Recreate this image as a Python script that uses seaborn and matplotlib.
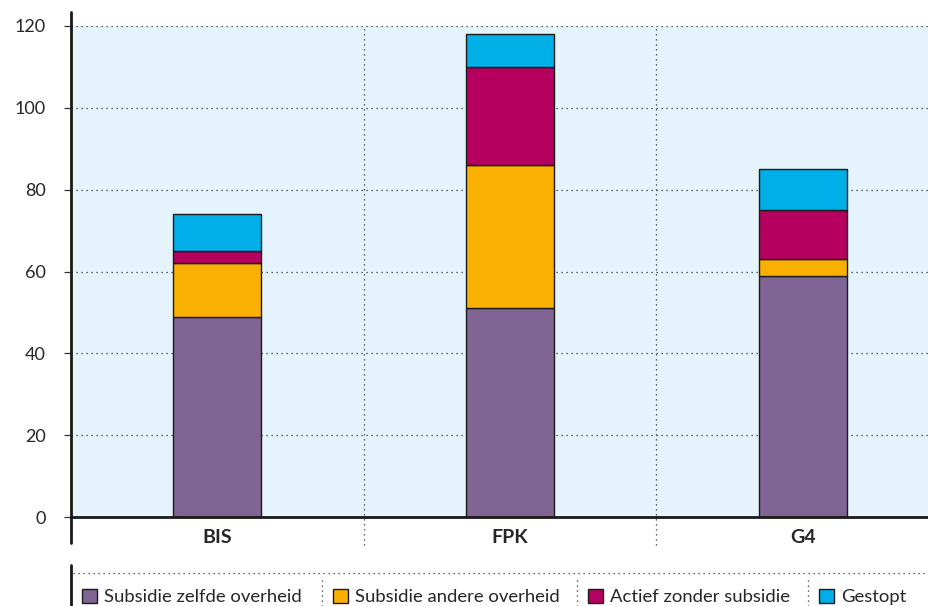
import numpy as np
import matplotlib
matplotlib.use("Agg")
import matplotlib.pyplot as plt
import seaborn as sns
import pandas as pd
from matplotlib.lines import Line2D
from matplotlib.patches import Patch

categories = ["BIS", "FPK", "G4"]
series_names = ["Subsidie zelfde overheid", "Subsidie andere overheid",
                "Actief zonder subsidie", "Gestopt"]
subsidie_zelfde = [49, 51, 59]
subsidie_andere = [13, 35, 4]
actief_zonder = [3, 24, 12]
gestopt = [9, 8, 10]
y_ticks = [0, 20, 40, 60, 80, 100, 120]

colors = ["#7f6494", "#f9b000", "#b5005f", "#00aee8"]

sns.set_style("white")
plt.rcParams['font.family'] = ['Lato', 'DejaVu Sans']

df = pd.DataFrame({"cat": categories,
                   series_names[0]: subsidie_zelfde,
                   series_names[1]: subsidie_andere,
                   series_names[2]: actief_zonder,
                   series_names[3]: gestopt})

fig = plt.figure(figsize=(9.29, 6.06), dpi=100)
ax = fig.add_axes([71 / 929, 1 - 517 / 606, 1 - 71 / 929, (517 - 26) / 606])
ax.set_facecolor("#e5f3fc")

bottom = np.zeros(len(categories))
for name, col in zip(series_names, colors):
    sns.barplot(data=df, x="cat", y=name, color=col, width=0.3,
                bottom=bottom, edgecolor="#1a1a1a", linewidth=1.0,
                saturation=1, ax=ax)
    bottom = bottom + df[name].values

ax.set_xlim(-0.5, 2.5 - 20 / 292.5)
ax.set_ylim(0, 120)
ax.set_yticks(y_ticks)
ax.set_xlabel("")
ax.set_ylabel("")
ax.yaxis.grid(True, linestyle=(0, (1, 3)), color="#333333", linewidth=0.9)
ax.set_axisbelow(True)
for s in ["top", "right", "left"]:
    ax.spines[s].set_visible(False)
ax.spines["bottom"].set_color("#1a1a1a")
ax.spines["bottom"].set_linewidth(2)
ax.tick_params(axis="y", left=True, length=5, width=0.9, color="#333333",
               labelsize=13, pad=13)
ax.tick_params(axis="x", bottom=False, labelsize=14, pad=5)
for lbl in ax.get_xticklabels():
    lbl.set_fontweight("bold")

# category separators
for xv in [0.5, 1.5]:
    ax.axvline(xv, ymin=-0.057, ymax=1.0, clip_on=False,
               linestyle=(0, (1, 3)), color="#333333", linewidth=0.9)

# tall left axis line
fig.add_artist(Line2D([71 / 929, 71 / 929], [1 - 12 / 606, 1 - 543 / 606],
                      color="#1a1a1a", linewidth=2, transform=fig.transFigure))

# legend area
fig.add_artist(Line2D([71 / 929, 71 / 929], [1 - 565 / 606, 0],
                      color="#1a1a1a", linewidth=2, transform=fig.transFigure))
fig.add_artist(Line2D([73 / 929, 1], [1 - 573 / 606, 1 - 573 / 606],
                      color="#333333", linewidth=0.9, linestyle=(0, (1, 3)),
                      transform=fig.transFigure))
for xs in [322, 577, 808]:
    fig.add_artist(Line2D([xs / 929, xs / 929], [1 - 580 / 606, 0],
                          color="#333333", linewidth=0.9, linestyle=(0, (1, 3)),
                          transform=fig.transFigure))

text_x = [82, 333, 588, 819]
for name, col, xs in zip(series_names, colors, text_x):
    fig.legend(handles=[Patch(facecolor=col, edgecolor="#1a1a1a", linewidth=1)],
               labels=[name], loc="center left",
               bbox_to_anchor=(xs / 929, 1 - 597 / 606),
               frameon=False, fontsize=13.3, handlelength=0.8, handleheight=0.8,
               handletextpad=0.4, borderaxespad=0, borderpad=0)

fig.savefig("out.png", dpi=100)
